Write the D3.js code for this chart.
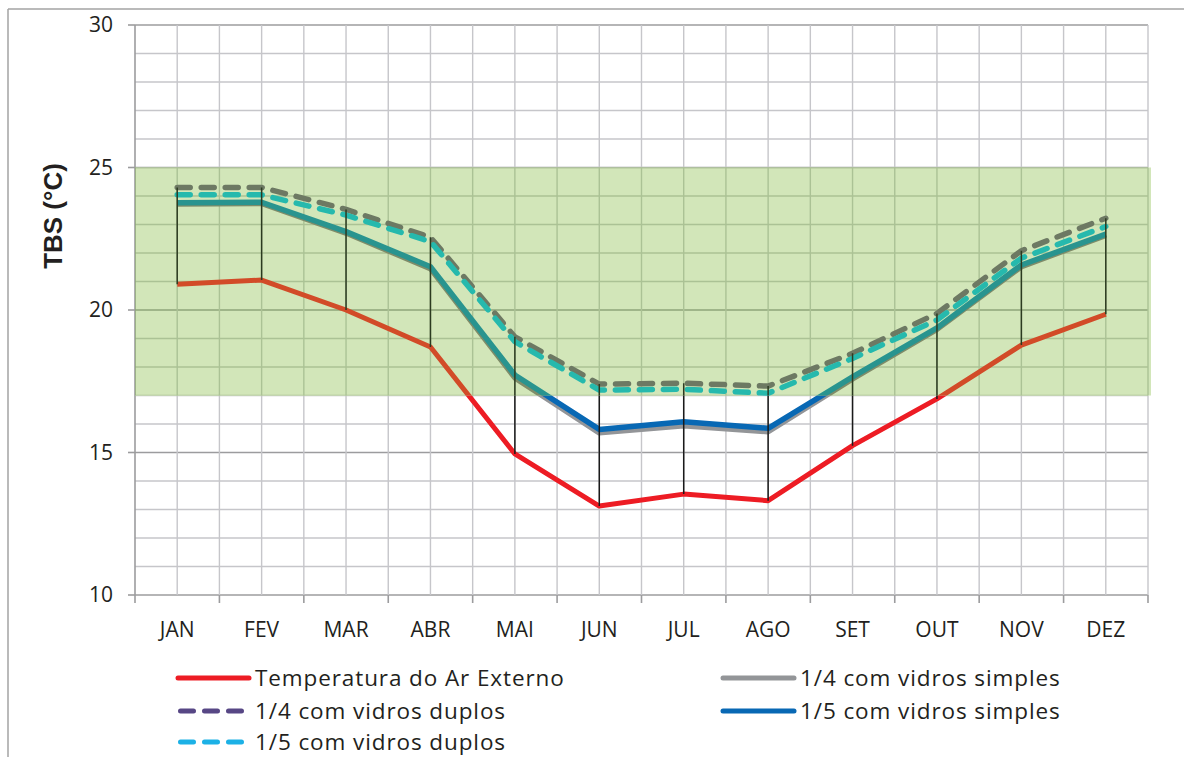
<!DOCTYPE html>
<html>
<head>
<meta charset="utf-8">
<script src="https://cdn.jsdelivr.net/npm/d3@7"></script>
<style>
  html, body { margin: 0; padding: 0; background: #fff; }
  svg { display: block; }
  text { font-family: "Open Sans", sans-serif; fill: #231f20; }
</style>
</head>
<body>
<svg id="chart" width="1184" height="757"></svg>
<script>
// Monthly dry-bulb temperature (TBS, °C)
const months = ["JAN","FEV","MAR","ABR","MAI","JUN","JUL","AGO","SET","OUT","NOV","DEZ"];
const externo      = [20.9, 21.05, 20.0, 18.7, 14.95, 13.12, 13.54, 13.31, 15.24, 16.88, 18.77, 19.85];
const q4Simples    = [23.72, 23.74, 22.7, 21.45, 17.62, 15.69, 15.94, 15.73, 17.58, 19.32, 21.52, 22.62];
const q4Duplos     = [24.3, 24.3, 23.53, 22.55, 19.06, 17.4, 17.43, 17.33, 18.48, 19.88, 22.08, 23.22];
const q5Simples    = [23.76, 23.78, 22.75, 21.52, 17.72, 15.81, 16.08, 15.85, 17.65, 19.37, 21.58, 22.66];
const q5Duplos     = [24.04, 24.04, 23.33, 22.4, 18.89, 17.19, 17.22, 17.08, 18.3, 19.65, 21.82, 22.93];
const yTicks = [10, 15, 20, 25, 30];
const comfortBand = [17, 25];

const series = [
  { name: "Temperatura do Ar Externo", values: externo,   color: "#ed1c24", tint: "#d24b28", dashed: false, width: 5 },
  { name: "1/4 com vidros simples",    values: q4Simples, color: "#939598", tint: "#7f8c69", dashed: false, width: 5.5 },
  { name: "1/5 com vidros simples",    values: q5Simples, color: "#0868b4", tint: "#29948f", dashed: false, width: 5.5 },
  { name: "1/4 com vidros duplos",     values: q4Duplos,  color: "#574785", tint: "#6d7963", dashed: true,  width: 5.5 },
  { name: "1/5 com vidros duplos",     values: q5Duplos,  color: "#1cb1e6", tint: "#26b9ad", dashed: true,  width: 5.5 }
];

const svg = d3.select("#chart");
const plotLeft = 135, plotRight = 1148, plotTop = 25, plotBottom = 595;

const x = d3.scaleBand().domain(months).range([plotLeft, plotRight]).padding(0);
const cx = m => x(m) + x.bandwidth() / 2;
const y = d3.scaleLinear().domain([10, 30]).range([plotBottom, plotTop]);

// outer frame
svg.append("line").attr("x1", 8).attr("x2", 1184).attr("y1", 9).attr("y2", 9)
  .attr("stroke", "#a3a3a3").attr("stroke-width", 1.5);
svg.append("line").attr("x1", 8).attr("x2", 8).attr("y1", 9).attr("y2", 757)
  .attr("stroke", "#a3a3a3").attr("stroke-width", 1.5);

// clips for the comfort band and its complement
const defs = svg.append("defs");
const bandX0 = plotLeft, bandX1 = plotRight + 3;
const bandY0 = y(comfortBand[1]), bandY1 = y(comfortBand[0]);
defs.append("clipPath").attr("id", "bandClip").append("rect")
  .attr("x", bandX0).attr("width", bandX1 - bandX0)
  .attr("y", bandY0).attr("height", bandY1 - bandY0);
defs.append("clipPath").attr("id", "outClip").append("path")
  .attr("clip-rule", "evenodd")
  .attr("d", `M0,0H1184V757H0Z M${bandX0},${bandY0}H${bandX1}V${bandY1}H${bandX0}Z`);

const hValues = d3.range(10, 31, 1);
const vCount = months.length * 2;

function drawGrid(g, minor, major) {
  g.selectAll(".h").data(hValues).join("line")
    .attr("x1", plotLeft).attr("x2", plotRight)
    .attr("y1", d => y(d)).attr("y2", d => y(d))
    .attr("stroke", d => d % 5 === 0 ? major : minor)
    .attr("stroke-width", d => d % 5 === 0 ? 1.6 : 1.4);
  g.selectAll(".v").data(d3.range(0, vCount + 1)).join("line")
    .attr("x1", i => plotLeft + i * x.bandwidth() / 2).attr("x2", i => plotLeft + i * x.bandwidth() / 2)
    .attr("y1", plotTop).attr("y2", plotBottom)
    .attr("stroke", i => i === 0 ? major : minor)
    .attr("stroke-width", i => i === 0 ? 1.6 : 1.4);
}

// grid outside the band
drawGrid(svg.append("g").attr("clip-path", "url(#outClip)"), "#c6c6ca", "#9c9c9e");

// comfort band
svg.append("rect")
  .attr("x", bandX0).attr("width", bandX1 - bandX0)
  .attr("y", bandY0).attr("height", bandY1 - bandY0)
  .attr("fill", "#d2e6b9");
drawGrid(svg.append("g").attr("clip-path", "url(#bandClip)"), "#abc295", "#8ea57a");

// axis ticks
svg.append("g").selectAll("line").data(yTicks).join("line")
  .attr("x1", plotLeft - 7).attr("x2", plotLeft).attr("y1", d => y(d)).attr("y2", d => y(d))
  .attr("stroke", "#9c9c9e").attr("stroke-width", 1.6);
svg.append("g").selectAll("line").data(d3.range(0, months.length + 1)).join("line")
  .attr("x1", i => plotLeft + i * x.bandwidth()).attr("x2", i => plotLeft + i * x.bandwidth())
  .attr("y1", plotBottom).attr("y2", plotBottom + 8)
  .attr("stroke", "#9c9c9e").attr("stroke-width", 1.6);

// tick labels
svg.append("g").selectAll("text").data(yTicks).join("text")
  .attr("x", 113).attr("y", d => y(d)).attr("dy", "0.35em")
  .attr("text-anchor", "end").style("font-size", "21px").text(d => d);
svg.append("g").selectAll("text").data(months).join("text")
  .attr("x", d => cx(d)).attr("y", 630).attr("dy", "0.35em")
  .attr("text-anchor", "middle").style("font-size", "21px").text(d => d);

// axis title
svg.append("text")
  .attr("transform", `translate(62,216) rotate(-90)`)
  .attr("text-anchor", "middle")
  .style("font-size", "26px").style("font-weight", "bold")
  .style("font-family", "'Liberation Sans', Arial, sans-serif")
  .text("TBS (°C)");

const line = d3.line().x((d, i) => cx(months[i])).y(d => y(d));
const dash = "13 11";

// drop lines from highest to lowest series
const highs = months.map((m, i) => d3.max(series, s => s.values[i]));
const lows  = months.map((m, i) => d3.min(series, s => s.values[i]));

function drawLines(g, useTint) {
  series.forEach(s => {
    g.append("path").datum(s.values)
      .attr("d", line)
      .attr("fill", "none")
      .attr("stroke", useTint ? s.tint : s.color)
      .attr("stroke-width", s.width)
      .attr("stroke-linejoin", "round")
      .attr("stroke-linecap", s.dashed ? "round" : "butt")
      .attr("stroke-dasharray", s.dashed ? dash : null);
  });
  g.selectAll(".drop").data(months).join("line")
    .attr("x1", d => cx(d)).attr("x2", d => cx(d))
    .attr("y1", (d, i) => y(highs[i])).attr("y2", (d, i) => y(lows[i]))
    .attr("stroke", useTint ? "#2b3a20" : "#1a1a1a").attr("stroke-width", 1.5);
}
drawLines(svg.append("g").attr("clip-path", "url(#outClip)"), false);
drawLines(svg.append("g").attr("clip-path", "url(#bandClip)"), true);

// legend
const legendItems = [
  { s: series[0], x: 178, y: 678 },
  { s: series[1], x: 723, y: 678 },
  { s: series[3], x: 178, y: 711 },
  { s: series[2], x: 723, y: 711 },
  { s: series[4], x: 178, y: 742 }
];
const lg = svg.append("g");
legendItems.forEach(it => {
  lg.append("line")
    .attr("x1", it.s.dashed ? it.x + 2.5 : it.x).attr("x2", it.s.dashed ? it.x + 65 : it.x + 71)
    .attr("y1", it.y).attr("y2", it.y)
    .attr("stroke", it.s.color).attr("stroke-width", 5)
    .attr("stroke-linecap", "round")
    .attr("stroke-dasharray", it.s.dashed ? "13 11" : null);
  lg.append("text")
    .attr("x", it.x + 77).attr("y", it.y).attr("dy", "0.35em")
    .style("font-size", "22.5px").style("letter-spacing", "0.9px").text(it.s.name);
});
</script>
</body>
</html>
